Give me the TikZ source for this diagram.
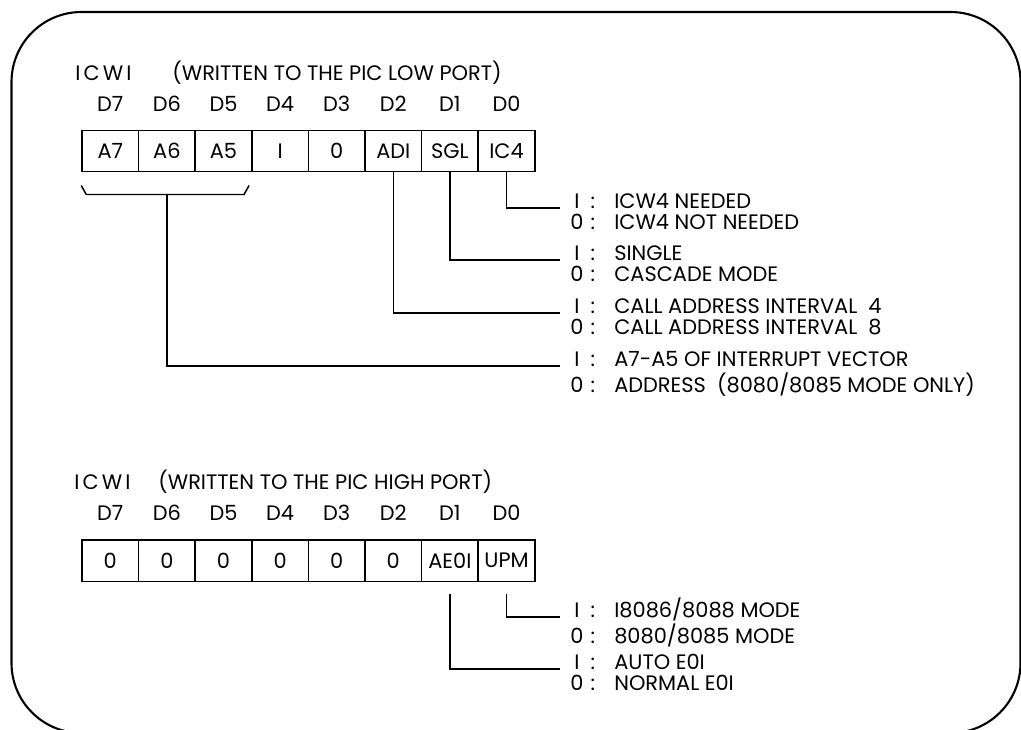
\documentclass[tikz,border=0pt]{standalone}
\usepackage{fontspec}
\setmainfont{Poppins}
\usetikzlibrary{positioning}
\tikzset{
    line/.style  = {line width=0.85pt},
    frame/.style = {line width=1.2pt, rounded corners=1.4cm},
    cell/.style  = {draw, line width=0.85pt, inner sep=0pt,
                    minimum width=1.132cm, minimum height=0.83cm},
    sig/.style   = {inner sep=0pt},
    note/.style  = {inner sep=0pt, anchor=base west}
}
\newcommand\regfont{\fontsize{11.9}{12}\selectfont}
\newcommand\bitnote[2]{\begin{tabular}[t]{@{}c@{\hspace{4pt}:\hspace{11pt}}l@{}}I&#1\\0&#2\end{tabular}}
\def\cellwidth{1.132}
\def\regleft{1.64}

\begin{document}
\begin{tikzpicture}[font=\regfont]
\useasboundingbox (0,0) rectangle (20.42,-14.58);
\draw[frame] (0.23,-0.24) rectangle (20.41,-14.66);

% low port word
\node[sig,anchor=base west] (lotitle) at (1.5,-1.6) {\addfontfeature{LetterSpace=15}ICWI};
\node[sig,anchor=base west] (loport) at (3.44,-1.6) {(WRITTEN TO THE PIC LOW PORT)};
\foreach \bit/\txt [count=\i from 0] in {7/A7,6/A6,5/A5,4/I,3/0,2/ADI,1/SGL,0/IC4} {
    \node[cell] (lo\bit) at ({\regleft+\cellwidth*(\i+0.5)},-3.02) {\txt};
    \node[sig,anchor=base] (dlo\bit) at ([yshift=0.36cm]lo\bit.north) {D\bit};
}

\node[note] (ic4note) at (11.4,-4.16) {\bitnote{ICW4 NEEDED}{ICW4 NOT NEEDED}};
\node[note] (sglnote) at (11.4,-5.2) {\bitnote{SINGLE}{CASCADE MODE}};
\node[note] (adinote) at (11.4,-6.26) {\bitnote{CALL ADDRESS INTERVAL\ \ 4}{CALL ADDRESS INTERVAL\ \ 8}};
\node[note] (vecnote) at (11.4,-7.32) {\bitnote{A7-A5 OF INTERRUPT VECTOR}{ADDRESS\ \ (8080/8085 MODE ONLY)}};
\draw[line] (lo0.south) |- ([xshift=-0.2cm]ic4note.base west);
\draw[line] (lo1.south) |- ([xshift=-0.2cm]sglnote.base west);
\draw[line] (lo2.south) |- ([xshift=-0.2cm]adinote.base west);

% bracket over A7-A5
\coordinate (brk) at ([yshift=-0.44cm]lo6.south);
\draw[line] ([yshift=-0.26cm]lo7.south west) -- ([xshift=0.1cm,yshift=-0.44cm]lo7.south west)
    -- ([xshift=-0.17cm,yshift=-0.44cm]lo5.south east) -- ([xshift=-0.07cm,yshift=-0.26cm]lo5.south east);
\draw[line] (brk) |- ([xshift=-0.2cm]vecnote.base west);

% high port word
\node[sig,anchor=base west] (hititle) at (1.48,-9.79) {\addfontfeature{LetterSpace=15}ICWI};
\node[sig,anchor=base west] (hiport) at (3.16,-9.79) {(WRITTEN TO THE PIC HIGH PORT)};
\foreach \bit/\txt [count=\i from 0] in {7/0,6/0,5/0,4/0,3/0,2/0,1/AE0I,0/UPM} {
    \node[cell] (hi\bit) at ({\regleft+\cellwidth*(\i+0.5)},-11.21) {\txt};
    \node[sig,anchor=base] (dhi\bit) at ([yshift=0.38cm]hi\bit.north) {D\bit};
}

\node[note] (upmnote) at (11.4,-12.34) {\bitnote{I8086/8088 MODE}{8080/8085 MODE}};
\node[note] (eoinote) at (11.4,-13.38) {\bitnote{AUTO E0I}{NORMAL E0I}};
\draw[line] ([yshift=-0.24cm]hi0.south) |- ([xshift=-0.2cm]upmnote.base west);
\draw[line] ([yshift=-0.24cm]hi1.south) |- ([xshift=-0.2cm]eoinote.base west);
\end{tikzpicture}
\end{document}
